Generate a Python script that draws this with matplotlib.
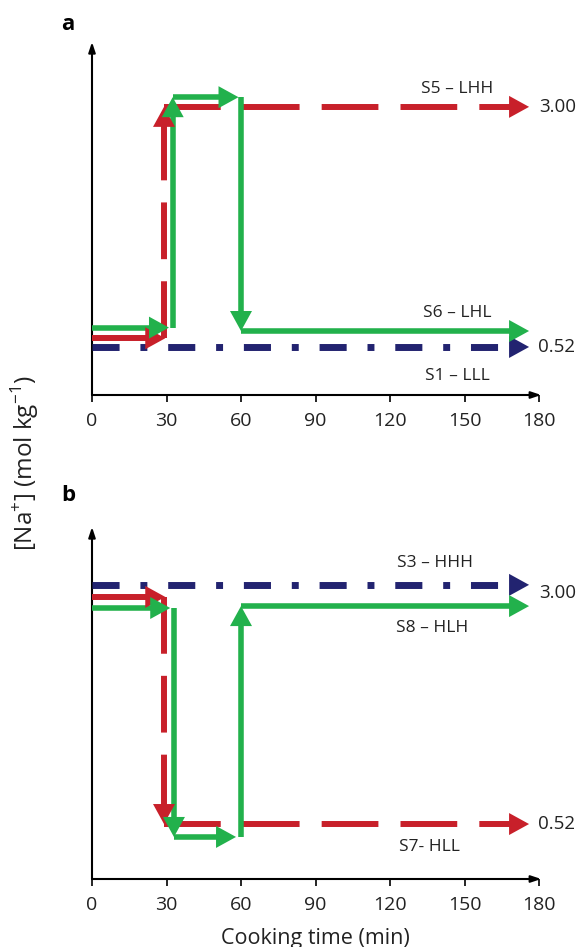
import numpy as np
import matplotlib
matplotlib.use("Agg")
import matplotlib.pyplot as plt
from matplotlib.patches import FancyArrowPatch

plt.rcParams['font.family'] = ['Open Sans', 'DejaVu Sans']
plt.rcParams['mathtext.fontset'] = 'custom'
plt.rcParams['mathtext.rm'] = 'Open Sans'

RED = '#c8202a'
GREEN = '#22b14c'
BLUE = '#222370'

# time ticks (min)
xticks = [0, 30, 60, 90, 120, 150, 180]

# schematic arrows, one row per arrow: start time, end time, start [Na+], end [Na+]
# (small offsets in [Na+] only keep the paths apart)
# panel a
s5_t0 = [0, 29, 29]
s5_t1 = [29.5, 29, 176]
s5_y0 = [0.61, 0.61, 3.00]
s5_y1 = [0.61, 3.00, 3.00]

s6_t0 = [0, 32.5, 32.5, 60, 60]
s6_t1 = [31, 32.5, 59, 60, 176]
s6_y0 = [0.72, 0.72, 3.10, 3.10, 0.685]
s6_y1 = [0.72, 3.10, 3.10, 0.685, 0.685]

s1_t0, s1_t1 = [0], [176]
s1_y0, s1_y1 = [0.52], [0.52]

# panel b
s3_t0, s3_t1 = [0], [176]
s3_y0, s3_y1 = [3.00], [3.00]

s7_t0 = [0, 29, 29]
s7_t1 = [29.5, 29, 176]
s7_y0 = [2.875, 2.875, 0.52]
s7_y1 = [2.875, 0.52, 0.52]

s8_t0 = [0, 33, 33, 60, 60]
s8_t1 = [31.5, 33, 58, 60, 176]
s8_y0 = [2.76, 2.76, 0.386, 0.386, 2.78]
s8_y1 = [2.76, 0.386, 0.386, 2.78, 2.78]

fig = plt.figure(figsize=(5.8, 9.47), dpi=100)
axa = fig.add_axes([92/580, 1-395/947, 447/580, 353/947])
axb = fig.add_axes([92/580, 1-879/947, 447/580, 352/947])
axa.set_ylim(0.024, 3.67)
axb.set_ylim(-0.05, 3.60)


def seg(ax, p0, p1, color, lw, ls='-', head=20):
    # line + filled triangular head, head length in pixels
    a = ax.transData.transform(p0)
    b = ax.transData.transform(p1)
    d = b - a
    u = d / np.hypot(*d)
    c = ax.transData.inverted().transform(b - u*head*0.9)
    h = ax.transData.inverted().transform(b - u*head)
    ax.plot([p0[0], c[0]], [p0[1], c[1]], color=color, lw=lw, ls=ls,
            solid_capstyle='butt', dash_capstyle='butt', clip_on=False, zorder=3)
    ax.add_patch(FancyArrowPatch(h, p1, arrowstyle='-|>,head_length=1,head_width=0.55',
                                 mutation_scale=head*0.72, color=color, lw=0,
                                 shrinkA=0, shrinkB=0, clip_on=False, zorder=4))


def arrows(ax, t0, t1, y0, y1, color, lw, styles):
    for i in range(len(t0)):
        seg(ax, (t0[i], y0[i]), (t1[i], y1[i]), color, lw, styles[i])


dash = (0, (9.5, 3.7))
dashdot = (0, (3.9, 3.0, 1.0, 3.0))

for ax in (axa, axb):
    ax.set_xlim(0, 180)
    for s in ax.spines.values():
        s.set_visible(False)
    ax.set_yticks([])
    ax.set_xticks(xticks)
    ax.tick_params(axis='x', direction='out', length=5, width=1.2, labelsize=14,
                   pad=7, colors='black')
    for lbl in ax.get_xticklabels():
        lbl.set_color('#222222')
    ax.annotate('', xy=(0, 1), xytext=(0, 0), xycoords='axes fraction',
                arrowprops=dict(arrowstyle='-|>,head_length=0.6,head_width=0.2',
                                lw=1.5, color='black', shrinkA=0, shrinkB=0))
    ax.annotate('', xy=(1.005, 0), xytext=(0, 0), xycoords='axes fraction',
                arrowprops=dict(arrowstyle='-|>,head_length=0.6,head_width=0.2',
                                lw=1.5, color='black', shrinkA=0, shrinkB=0))

# panel a
arrows(axa, s1_t0, s1_t1, s1_y0, s1_y1, BLUE, 5.0, [dashdot])
arrows(axa, s5_t0, s5_t1, s5_y0, s5_y1, RED, 4.3, ['-', dash, dash])
arrows(axa, s6_t0, s6_t1, s6_y0, s6_y1, GREEN, 4.0, ['-'] * 5)

# panel b
arrows(axb, s3_t0, s3_t1, s3_y0, s3_y1, BLUE, 5.0, [dashdot])
arrows(axb, s7_t0, s7_t1, s7_y0, s7_y1, RED, 4.3, ['-', dash, dash])
arrows(axb, s8_t0, s8_t1, s8_y0, s8_y1, GREEN, 4.0, ['-'] * 5)

lab = dict(fontsize=12.5, ha='center', va='center', color='#222222')
axa.text(147, 3.185, 'S5 – LHH', **lab)
axa.text(147, 0.87, 'S6 – LHL', **lab)
axa.text(147, 0.22, 'S1 – LLL', **lab)
axb.text(138, 3.23, 'S3 – HHH', **lab)
axb.text(137, 2.55, 'S8 – HLH', **lab)
axb.text(136, 0.28, 'S7- HLL', **lab)

val = dict(fontsize=13.5, ha='left', va='center', color='#222222')
axa.text(180, 3.00, '3.00', **val)
axa.text(179.5, 0.52, '0.52', **val)
axb.text(180, 2.92, '3.00', **val)
axb.text(179.5, 0.52, '0.52', **val)

fig.text(68/580, 1-25/947, 'a', fontsize=16, fontweight='bold', ha='center', va='center')
fig.text(68/580, 1-495/947, 'b', fontsize=16, fontweight='bold', ha='center', va='center')

axb.set_xlabel('Cooking time (min)', fontsize=15.5, labelpad=10, color='#222222')
fig.text(25/580, 1-463/947, r'[Na$^{+}$] (mol kg$^{-1}$)', rotation=90,
         fontsize=17.5, ha='center', va='center', color='#222222')

fig.savefig('out.png', dpi=100)
